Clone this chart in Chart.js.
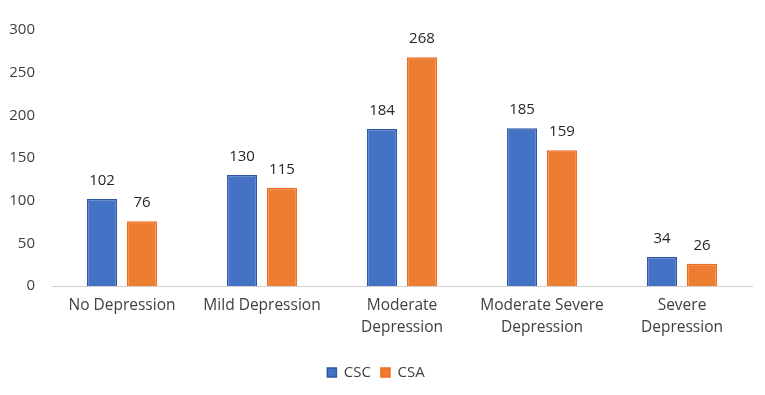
<!DOCTYPE html>
<html>
<head>
<meta charset="utf-8">
<script src="https://cdn.jsdelivr.net/npm/chart.js@4/dist/chart.umd.min.js"></script>
<style>
html,body{margin:0;padding:0;background:#fff;}
#wrap{width:765px;height:395px;}
</style>
</head>
<body>
<div id="wrap"><canvas id="c" width="765" height="395"></canvas></div>
<script>
const categories = ["No Depression", "Mild Depression", ["Moderate", "Depression"], ["Moderate Severe", "Depression"], ["Severe", "Depression"]];
const seriesNames = ["CSC", "CSA"];
const cscValues = [102, 130, 184, 185, 34];
const csaValues = [76, 115, 268, 159, 26];
const yTicks = [0, 50, 100, 150, 200, 250, 300];

const FONT = "'Open Sans', 'Liberation Sans', sans-serif";

const valueLabels = {
  id: 'valueLabels',
  afterDatasetsDraw(chart) {
    const ctx = chart.ctx;
    ctx.save();
    ctx.font = "15px " + FONT;
    ctx.fillStyle = '#262626';
    ctx.textAlign = 'center';
    ctx.textBaseline = 'bottom';
    chart.data.datasets.forEach((ds, di) => {
      const meta = chart.getDatasetMeta(di);
      meta.data.forEach((bar, i) => {
        ctx.fillText(String(ds.data[i]), bar.x, bar.y - 11);
      });
    });
    ctx.restore();
  }
};

new Chart(document.getElementById('c'), {
  type: 'bar',
  data: {
    labels: categories,
    datasets: [
      { label: seriesNames[0], data: cscValues, backgroundColor: '#4472C4', borderColor: '#2E56A8', borderWidth: 1.5, categoryPercentage: 0.571, barPercentage: 0.75 },
      { label: seriesNames[1], data: csaValues, backgroundColor: '#ED7D31', borderColor: '#F06A1E', borderWidth: 1.5, categoryPercentage: 0.571, barPercentage: 0.75 }
    ]
  },
  options: {
    responsive: false,
    animation: false,
    layout: { padding: { top: 30, right: 13, left: 0, bottom: 5 } },
    plugins: {
      legend: {
        position: 'bottom',
        labels: { font: { size: 15, family: FONT }, color: '#404040', boxWidth: 9, boxHeight: 9, padding: 10 }
      },
      tooltip: { enabled: false }
    },
    scales: {
      x: {
        grid: { display: false, drawTicks: false },
        border: { display: true, color: '#D0D0D0', width: 1 },
        ticks: { font: { size: 15.5, family: FONT, lineHeight: 1.4 }, color: '#404040', padding: 9, maxRotation: 0, autoSkip: false },
        afterFit(scale) { scale.height = 69; }
      },
      y: {
        min: 0, max: 300,
        afterBuildTicks(scale) { scale.ticks = yTicks.map(v => ({ value: v })); },
        grid: { display: false, drawTicks: false },
        border: { display: false },
        ticks: { font: { size: 15, family: FONT }, color: '#404040', padding: 17 },
        afterFit(scale) { scale.width = 52; }
      }
    }
  },
  plugins: [valueLabels]
});
</script>
</body>
</html>
